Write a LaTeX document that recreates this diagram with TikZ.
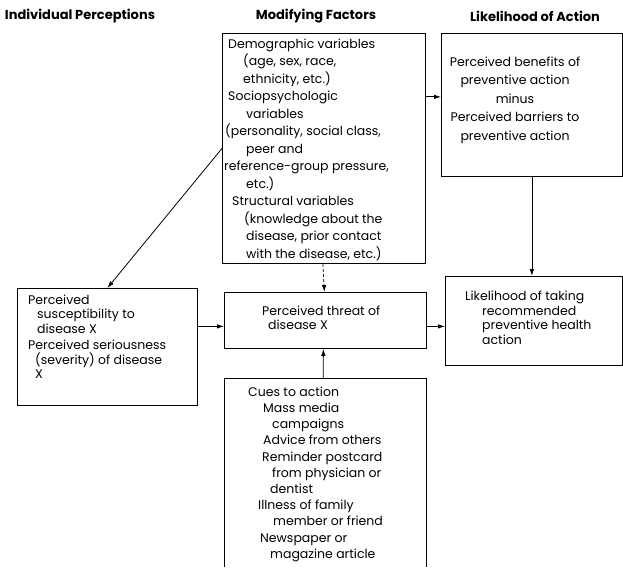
\documentclass[tikz,border=0pt]{standalone}
\usepackage{fontspec}
\setmainfont{Poppins}
\usetikzlibrary{arrows.meta}
\tikzset{
  box/.style={draw, line width=0.8pt, inner sep=0pt, anchor=north west},
  openbox/.style={inner sep=0pt, anchor=north west},
  txt/.style={inner sep=0pt, anchor=north west, align=left},
  head/.style={inner sep=0pt, font=\fontsize{13}{15}\selectfont\bfseries},
  arr/.style={line width=0.8pt, -{Latex[length=7pt,width=4.5pt]}},
  darr/.style={arr, densely dashed},
}
\begin{document}
\begin{tikzpicture}[x=1pt,y=-1pt]
\useasboundingbox (0,0) rectangle (623,567);
% headers
\node[head] (h1) at (80,16) {Individual Perceptions};
\node[head] (h2) at (316,16) {Modifying Factors};
\node[head] (h3) at (535,16) {Likelihood of Action};
% boxes
\node[box, minimum width=203pt, minimum height=230pt] (mod) at (222,33) {};
\node[box, minimum width=181pt, minimum height=143pt] (bene) at (441,33) {};
\node[box, minimum width=180pt, minimum height=117pt] (susc) at (17,288) {};
\node[box, minimum width=202pt, minimum height=56pt] (thr) at (224,292) {};
\node[box, minimum width=177pt, minimum height=89pt] (like) at (445,276) {};
\node[openbox, minimum width=202pt, minimum height=189pt] (cues) at (224,378) {};
\draw[line width=0.8pt] (cues.south west) |- (cues.north east) -- (cues.south east);
% texts
\node[txt, font=\fontsize{12.5}{17.5}\selectfont] (modt) at (224,38.5) {%
\hspace*{4pt}Demographic variables\\
\hspace*{19pt}(age, sex, race,\\
\hspace*{19pt}ethnicity, etc.)\\
\hspace*{4pt}Sociopsychologic\\
\hspace*{22pt}variables\\
\hspace*{1pt}(personality, social class,\\
\hspace*{22pt}peer and\\
reference-group pressure,\\
\hspace*{22pt}etc.)\\
\hspace*{8pt}Structural variables\\
\hspace*{20pt}(knowledge about the\\
\hspace*{22pt}disease, prior contact\\
\hspace*{22pt}with the disease, etc.)};
\node[txt, anchor=north, align=center, font=\fontsize{12.5}{18.5}\selectfont] (benet) at (515,56.5) {%
Perceived benefits of\\
preventive action\\
minus\\
Perceived barriers to\\
preventive action};
\node[txt, font=\fontsize{12.5}{14.5}\selectfont] (susct) at (28,294.5) {%
Perceived\\
\hspace*{9pt}susceptibility to\\
\hspace*{9pt}disease X\\[2pt]
Perceived seriousness\\
\hspace*{7pt}(severity) of disease\\
\hspace*{7pt}X};
\node[txt, font=\fontsize{12.5}{13.5}\selectfont] (thrt) at (262,306) {%
Perceived threat of\\
\hspace*{6pt}disease X};
\node[txt, font=\fontsize{12.5}{14.5}\selectfont] (liket) at (465,291) {%
Likelihood of taking\\
\hspace*{17pt}recommended\\
\hspace*{17pt}preventive health\\
\hspace*{17pt}action};
\node[txt, font=\fontsize{12.5}{16.2}\selectfont] (cuest) at (248,386.5) {%
Cues to action\\
\hspace*{15pt}Mass media\\
\hspace*{24pt}campaigns\\
\hspace*{15pt}Advice from others\\
\hspace*{14pt}Reminder postcard\\
\hspace*{24pt}from physician or\\
\hspace*{22pt}dentist\\
\hspace*{10pt}Illness of family\\
\hspace*{25pt}member or friend\\
\hspace*{12pt}Newspaper or\\
\hspace*{22pt}magazine article};
% connectors
\draw[arr] ([yshift=8pt]bene.west -| mod.east) -- ([yshift=8pt]bene.west);
\draw[arr] (bene.south) -- (bene.south |- like.north);
\draw[arr] ([yshift=-6pt]thr.east) -- ([yshift=-6pt]thr.east -| like.west);
\draw[arr] ([yshift=-6pt]thr.west -| susc.east) -- ([yshift=-6pt]thr.west);
\draw[darr] ([xshift=-1pt]mod.south) -- ([xshift=-1pt]thr.north);
\draw[arr] ([xshift=-2pt]cues.north) -- ([xshift=-2pt]thr.south);
\draw[arr] (mod.west) -- (susc.north);
\end{tikzpicture}
\end{document}
